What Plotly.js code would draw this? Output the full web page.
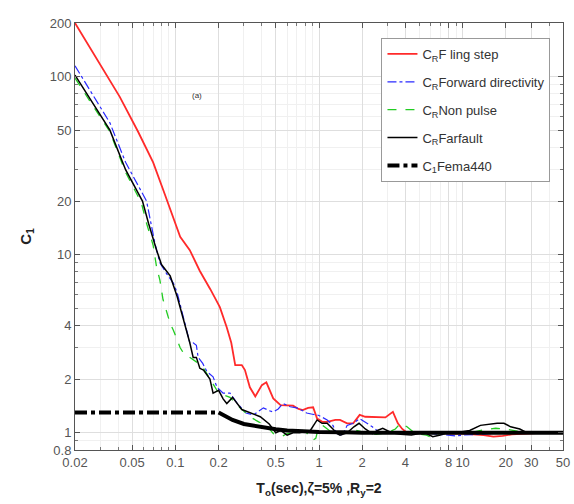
<!DOCTYPE html>
<html>
<head>
<meta charset="utf-8">
<script src="https://cdn.plot.ly/plotly-3.0.1.min.js"></script>
<style>html,body{margin:0;padding:0;background:#fff;}#plot{width:574px;height:504px;}</style>
</head>
<body>
<div id="plot"></div>
<script>
// Period T (sec) and C1 values
const flingX = [0.02,0.03,0.041,0.055,0.07,0.085,0.1,0.108,0.126,0.148,0.175,0.204,0.228,0.245,0.261,0.29,0.305,0.33,0.36,0.4,0.43,0.48,0.54,0.6,0.66,0.72,0.77,0.84,0.91,0.97,1.06,1.14,1.3,1.4,1.57,1.73,1.92,2.1,2.35,2.65,2.9,3.27,3.54,3.8,4.1,4.6,5.2,6,7,8,10,12,14,16.4,19,22,26,30,35,42,50];
const flingY = [200,117,77,49,33,21.5,15,12.6,10.6,8.1,6.4,5.07,3.9,3.2,2.4,2.4,2.25,1.8,1.6,1.85,1.92,1.56,1.43,1.43,1.42,1.36,1.34,1.38,1.39,1.2,1.15,1.15,1.18,1.18,1.13,1.13,1.26,1.23,1.23,1.23,1.22,1.31,1.13,1.05,1.0,1.0,1.01,1.01,1.0,0.99,0.99,0.98,0.97,0.95,0.96,0.98,0.99,1.0,1.0,1.0,1.0];

const fwdX = [0.02,0.035,0.045,0.063,0.072,0.078,0.087,0.097,0.103,0.114,0.126,0.133,0.14,0.144,0.155,0.166,0.183,0.195,0.215,0.24,0.27,0.31,0.35,0.37,0.41,0.45,0.48,0.52,0.56,0.63,0.7,0.77,0.82,0.9,1.0,1.14,1.25,1.33,1.46,1.57,1.73,1.92,2.1,2.35,2.65,3.0,3.5,4.2,5,6,7,8,9,10,12,15,20,25,30,40,50];
const fwdY = [115,55,33,20,11.6,9.0,7.8,6.9,6.1,4.4,3.2,3.2,3.1,2.65,2.45,2.2,2.06,1.8,1.67,1.67,1.46,1.29,1.26,1.3,1.38,1.33,1.31,1.36,1.46,1.4,1.38,1.33,1.29,1.27,1.25,1.18,1.1,0.99,0.97,1.1,1.13,1.2,1.15,1.08,1.0,1.0,0.99,1.0,1.0,0.99,0.98,0.97,0.96,0.97,0.98,0.99,1.0,1.0,1.0,1.0,1.0];

const nonX = [0.02,0.027,0.035,0.045,0.052,0.058,0.063,0.07,0.074,0.078,0.082,0.087,0.092,0.097,0.108,0.114,0.125,0.133,0.145,0.157,0.174,0.183,0.2,0.24,0.28,0.33,0.38,0.43,0.48,0.53,0.56,0.6,0.7,0.77,0.82,0.88,0.91,0.95,0.98,1.06,1.2,1.4,1.6,1.83,2.1,2.5,3.0,3.4,3.7,4.1,4.6,5.1,5.6,6.1,7.0,8.5,10,12,14,17,20,24,30,40,50];
const nonY = [98,68,49,29,23,19.5,15,11.3,8.5,7.2,5.6,4.7,4.1,3.75,3.0,2.8,2.65,2.55,2.45,2.3,2.0,1.85,1.67,1.58,1.39,1.23,1.15,1.1,0.99,0.97,0.96,0.99,1.0,1.03,1.0,0.92,0.91,0.93,1.03,1.1,1.02,0.99,1.0,1.03,1.0,0.98,1.0,1.05,1.13,1.08,1.0,0.98,0.97,0.94,1.0,1.0,1.0,1.01,1.04,1.06,1.05,1.02,1.0,1.0,1.0];

const farX = [0.02,0.027,0.035,0.045,0.052,0.059,0.065,0.07,0.074,0.08,0.087,0.092,0.103,0.114,0.12,0.126,0.133,0.14,0.148,0.157,0.174,0.183,0.2,0.215,0.228,0.25,0.29,0.33,0.39,0.45,0.5,0.54,0.6,0.66,0.73,0.87,0.94,0.97,1.05,1.14,1.25,1.33,1.4,1.57,1.75,1.9,2.1,2.35,2.55,2.78,3.2,3.7,4.4,5.0,5.6,6.2,7.0,7.8,9,11.2,13.3,15.5,17.4,19.4,21.6,25,28,35,42,50];
const farY = [102,70,50,30,24,20,15,12.1,10.6,8.8,8.0,7.6,5.8,4.3,3.8,3.2,2.65,2.65,2.3,2.25,2.0,1.67,1.73,1.55,1.46,1.58,1.35,1.3,1.23,1.12,1.0,1.03,0.97,1.0,1.0,1.03,1.13,1.18,1.13,1.13,1.05,0.99,0.97,1.0,1.08,1.13,1.05,0.99,1.03,1.06,1.0,0.98,0.97,0.99,0.99,0.95,0.97,1.0,1.0,1.03,1.1,1.12,1.13,1.13,1.08,1.05,1.0,1.0,1.0,1.0];

const femaFlatX = [0.02,0.2];
const femaFlatY = [1.3,1.3];
const femaX = [0.2,0.25,0.3,0.4,0.5,0.6,0.7,0.8,1,1.5,2,5,10,50];
const femaY = [1.3,1.18,1.12,1.07,1.045,1.03,1.02,1.017,1.01,1.005,1.0,1.0,1.0,1.0];

const xTicks = [0.02,0.05,0.1,0.2,0.5,1,2,4,8,10,20,30,50];
const xTickText = ['0.02','0.05','0.1','0.2','0.5','1','2','4','8','10','20','30','50'];
const yTicks = [0.8,1,2,4,10,20,50,100,200];
const yTickText = ['0.8','1','2','4','10','20','50','100','200'];

const traces = [
  {x: flingX, y: flingY, name: 'C<sub>R</sub>F ling step', legendgroup:'a', mode:'lines', line:{color:'#ff2a2a', width:1.8}},
  {x: fwdX, y: fwdY, name: 'C<sub>R</sub>Forward directivity', legendgroup:'b', mode:'lines', line:{color:'#2a2aff', width:1.2, dash:'dashdot'}},
  {x: nonX, y: nonY, name: 'C<sub>R</sub>Non pulse', legendgroup:'c', mode:'lines', line:{color:'#22cc22', width:1.3, dash:'dash'}},
  {x: farX, y: farY, name: 'C<sub>R</sub>Farfault', legendgroup:'d', mode:'lines', line:{color:'#000000', width:1.5}},
  {x: femaFlatX, y: femaFlatY, name: 'C<sub>1</sub>Fema440', legendgroup:'e', mode:'lines', line:{color:'#000000', width:4, dash:'dashdot'}},
  {x: femaX, y: femaY, name: 'C<sub>1</sub>Fema440', legendgroup:'e', showlegend:false, mode:'lines', line:{color:'#000000', width:4}}
];

const axisCommon = {
  type:'log', showline:true, linecolor:'#555', linewidth:1, mirror:'ticks',
  ticks:'inside', ticklen:5, tickcolor:'#555',
  showgrid:true, gridcolor:'#dedede', gridwidth:1, zeroline:false,
  tickfont:{family:'Liberation Sans, Arial, sans-serif', size:13, color:'#555'},
  minor:{dtick:'D1', showgrid:true, gridcolor:'#f0f0f0', ticks:'inside', ticklen:3, tickcolor:'#777'}
};

const layout = {
  width:574, height:504,
  margin:{l:75, r:11, t:23, b:54},
  paper_bgcolor:'#fff', plot_bgcolor:'#fff',
  showlegend:true,
  xaxis: Object.assign({}, axisCommon, {
    range:[Math.log10(0.02), Math.log10(50)],
    tickmode:'array', tickvals:xTicks, ticktext:xTickText,
    title:{text:'<b>T<sub>o</sub>(sec),ζ=5% ,R<sub>y</sub>=2</b>', font:{family:'Liberation Sans, Arial, sans-serif', size:14, color:'#222'}, standoff:14}
  }),
  yaxis: Object.assign({}, axisCommon, {
    range:[Math.log10(0.8), Math.log10(200)],
    tickmode:'array', tickvals:yTicks, ticktext:yTickText,
    title:{text:'<b>C<sub>1</sub></b>', font:{family:'Liberation Sans, Arial, sans-serif', size:15, color:'#222'}, standoff:14}
  }),
  legend:{
    x:0.628, y:0.965, xanchor:'left', yanchor:'top',
    bgcolor:'#fff', bordercolor:'#999', borderwidth:1,
    traceorder:'grouped', tracegroupgap:8,
    font:{family:'Liberation Sans, Arial, sans-serif', size:13, color:'#333'}
  },
  annotations:[
    {text:'(a)', xref:'paper', yref:'paper', x:0.236, y:0.845, showarrow:false, font:{family:'Liberation Sans, Arial, sans-serif', size:8, color:'#333'}}
  ]
};

Plotly.newPlot('plot', traces, layout, {displayModeBar:false, staticPlot:true});
</script>
</body>
</html>
